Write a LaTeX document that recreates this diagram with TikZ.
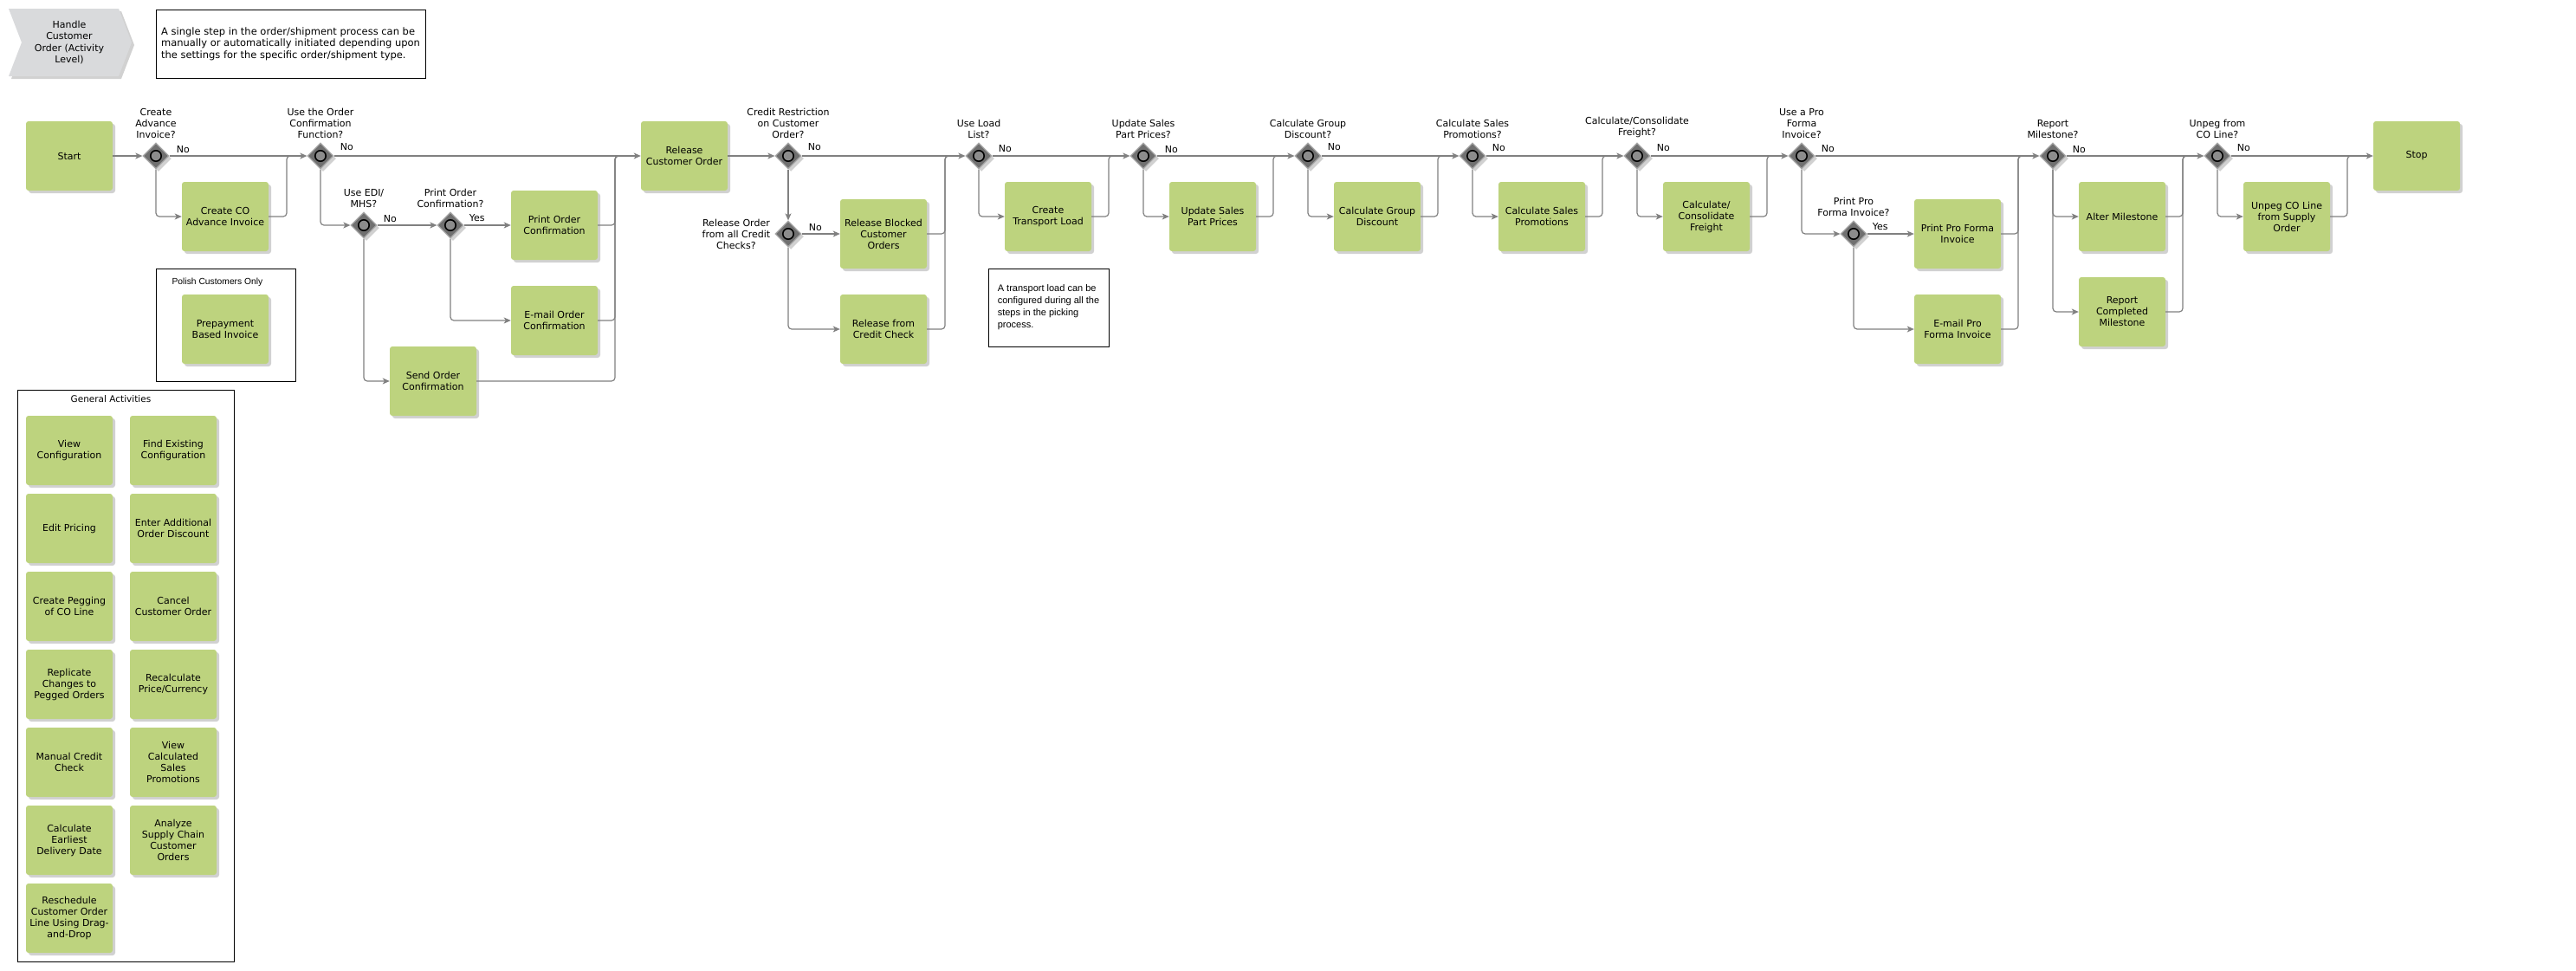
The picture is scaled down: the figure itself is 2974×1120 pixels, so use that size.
\documentclass[tikz,border=0pt]{standalone}
\usepackage{fontspec}
\setmainfont{DejaVu Sans}
\newfontfamily\notefont{Liberation Sans}
\usetikzlibrary{positioning,shapes.geometric,arrows.meta,shadows}

\definecolor{funcgreen}{RGB}{189,211,126}
\definecolor{gatefill}{RGB}{112,112,112}
\definecolor{gateedge}{RGB}{168,168,168}
\definecolor{gatedot}{RGB}{140,140,140}
\definecolor{linkgray}{RGB}{128,128,128}
\definecolor{chevgray}{RGB}{217,218,220}

\tikzset{
  softshadow/.style={drop shadow={shadow xshift=3pt, shadow yshift=-3pt, fill=black!45, opacity=.4}},
  func/.style={rectangle, rounded corners=3pt, fill=funcgreen, minimum width=100pt, minimum height=80pt,
    inner sep=1pt, align=center, font=\fontsize{11}{13}\selectfont, softshadow},
  gate/.style={diamond, minimum width=30pt, minimum height=30pt, inner sep=0pt, fill=gatefill,
    draw=gateedge, line width=1.2pt, softshadow,
    path picture={\draw[black, line width=1.6pt, fill=gatedot] (path picture bounding box.center) circle (6.2pt);}},
  question/.style={align=center, font=\fontsize{11}{13}\selectfont, inner sep=1pt},
  answer/.style={font=\fontsize{11}{13}\selectfont, inner sep=1pt, anchor=south west},
  notebox/.style={draw, line width=1pt, rectangle, inner sep=0pt},
  link/.style={draw=linkgray, line width=1.2pt, rounded corners=4pt},
  flow/.style={link, -{Stealth[length=8pt, width=7pt, inset=2pt]}},
}

\begin{document}
\begin{tikzpicture}[x=1pt, y=-1pt]
\useasboundingbox (0,0) rectangle (2974,1120);

% header
\fill[chevgray, softshadow] (10,10) -- (137,10) -- (152,49) -- (137,88) -- (10,88) -- (25,49) -- cycle;
\node[question, font=\fontsize{11}{13.5}\selectfont] (title) at (80,49) {Handle\\Customer\\Order (Activity\\Level)};
\node[notebox, minimum width=311pt, minimum height=79pt, align=left, font=\fontsize{11.5}{13.5}\selectfont] (scopenote) at (335.5,50.5)
  {A single step in the order/shipment process can be\\manually or automatically initiated depending upon\\the settings for the specific order/shipment type.};

% functions
\node[func] (start) at (80,180) {Start};
\node[func] (coadv) at (260,250) {Create CO\\Advance Invoice};
\node[func] (printconf) at (640,260) {Print Order\\Confirmation};
\node[func] (mailconf) at (640,370) {E-mail Order\\Confirmation};
\node[func] (sendconf) at (500,440) {Send Order\\Confirmation};
\node[func] (release) at (790,180) {Release\\Customer Order};
\node[func] (relblock) at (1020,270) {Release Blocked\\Customer\\Orders};
\node[func] (relcredit) at (1020,380) {Release from\\Credit Check};
\node[func] (transport) at (1210,250) {Create\\Transport Load};
\node[func] (updprice) at (1400,250) {Update Sales\\Part Prices};
\node[func] (groupdisc) at (1590,250) {Calculate Group\\Discount};
\node[func] (salesprom) at (1780,250) {Calculate Sales\\Promotions};
\node[func] (freight) at (1970,250) {Calculate/\\Consolidate\\Freight};
\node[func] (printpf) at (2260,270) {Print Pro Forma\\Invoice};
\node[func] (mailpf) at (2260,380) {E-mail Pro\\Forma Invoice};
\node[func] (altermile) at (2450,250) {Alter Milestone};
\node[func] (repmile) at (2450,360) {Report\\Completed\\Milestone};
\node[func] (unpeg) at (2640,250) {Unpeg CO Line\\from Supply\\Order};
\node[func] (stop) at (2790,180) {Stop};

% decisions
\node[gate] (g1) at (180,180) {};
\node[question, above=4pt of g1] (q1) {Create\\Advance\\Invoice?};
\node[answer] (a1) at ([xshift=7pt,yshift=2pt]g1.east) {No};
\node[gate] (g2) at (370,180) {};
\node[question, above=4pt of g2] (q2) {Use the Order\\Confirmation\\Function?};
\node[answer] (a2) at ([xshift=6pt,yshift=5pt]g2.east) {No};
\node[gate] (g3) at (420,260) {};
\node[question, above=4pt of g3] (q3) {Use EDI/\\MHS?};
\node[answer] (a3) at ([xshift=6pt,yshift=2pt]g3.east) {No};
\node[gate] (g4) at (520,260) {};
\node[question, above=4pt of g4] (q4) {Print Order\\Confirmation?};
\node[answer] (a4) at ([xshift=5pt,yshift=3pt]g4.east) {Yes};
\node[gate] (g5) at (910,180) {};
\node[question, above=4pt of g5] (q5) {Credit Restriction\\on Customer\\Order?};
\node[answer] (a5) at ([xshift=6pt,yshift=5pt]g5.east) {No};
\node[gate] (g6) at (910,270) {};
\node[question, left=4pt of g6] (q6) {Release Order\\from all Credit\\Checks?};
\node[answer] (a6) at ([xshift=7pt,yshift=2pt]g6.east) {No};
\node[gate] (g7) at (1130,180) {};
\node[question, above=4pt of g7] (q7) {Use Load\\List?};
\node[answer] (a7) at ([xshift=6pt,yshift=3pt]g7.east) {No};
\node[gate] (g8) at (1320,180) {};
\node[question, above=4pt of g8] (q8) {Update Sales\\Part Prices?};
\node[answer] (a8) at ([xshift=8pt,yshift=2pt]g8.east) {No};
\node[gate] (g9) at (1510,180) {};
\node[question, above=4pt of g9] (q9) {Calculate Group\\Discount?};
\node[answer] (a9) at ([xshift=6pt,yshift=5pt]g9.east) {No};
\node[gate] (g10) at (1700,180) {};
\node[question, above=4pt of g10] (q10) {Calculate Sales\\Promotions?};
\node[answer] (a10) at ([xshift=6pt,yshift=4pt]g10.east) {No};
\node[gate] (g11) at (1890,180) {};
\node[question, above=4pt of g11] (q11) {Calculate/Consolidate\\Freight?};
\node[answer] (a11) at ([xshift=6pt,yshift=4pt]g11.east) {No};
\node[gate] (g12) at (2080,180) {};
\node[question, above=4pt of g12] (q12) {Use a Pro\\Forma\\Invoice?};
\node[answer] (a12) at ([xshift=6pt,yshift=3pt]g12.east) {No};
\node[gate] (g13) at (2140,270) {};
\node[question, above=4pt of g13] (q13) {Print Pro\\Forma Invoice?};
\node[answer] (a13) at ([xshift=5pt,yshift=3pt]g13.east) {Yes};
\node[gate] (g14) at (2370,180) {};
\node[question, above=4pt of g14] (q14) {Report\\Milestone?};
\node[answer] (a14) at ([xshift=6pt,yshift=2pt]g14.east) {No};
\node[gate] (g15) at (2560,180) {};
\node[question, above=4pt of g15] (q15) {Unpeg from\\CO Line?};
\node[answer] (a15) at ([xshift=6pt,yshift=4pt]g15.east) {No};

% merge points on the main line
\coordinate (m1) at (331,180);
\coordinate (m2) at (710,180);
\coordinate (m3) at (1091,180);
\coordinate (m4) at (1280,180);
\coordinate (m5) at (1470,180);
\coordinate (m6) at (1660,180);
\coordinate (m7) at (1850,180);
\coordinate (m8) at (2040,180);
\coordinate (m9) at (2330,180);
\coordinate (m10) at (2520,180);
\coordinate (m11) at (2710,180);

% main line
\draw[flow] (start) -- (g1);
\draw[flow] (g1) -- (g2);
\draw[flow] (g2) -- (release);
\draw[flow] (release) -- (g5);
\draw[flow] (g5) -- (g7);
\draw[flow] (g7) -- (g8);
\draw[flow] (g8) -- (g9);
\draw[flow] (g9) -- (g10);
\draw[flow] (g10) -- (g11);
\draw[flow] (g11) -- (g12);
\draw[flow] (g12) -- (g14);
\draw[flow] (g14) -- (g15);
\draw[flow] (g15) -- (stop);

% branches
\draw[flow] (g1.south) |- (coadv.west);
\draw[link] (coadv.east) -| (m1) -- ++(6,0);
\draw[flow] (g2.south) |- (g3.west);
\draw[flow] (g3) -- (g4);
\draw[flow] (g4) -- (printconf);
\draw[flow] (g4.south) |- (mailconf.west);
\draw[flow] (g3.south) |- (sendconf.west);
\draw[link] (printconf.east) -| (m2) -- ++(6,0);
\draw[link] (mailconf.east) -| (m2) -- ++(6,0);
\draw[link] (sendconf.east) -| (m2) -- ++(6,0);
\draw[flow] (g5) -- (g6);
\draw[flow] (g6) -- (relblock);
\draw[flow] (g6.south) |- (relcredit.west);
\draw[link] (relblock.east) -| (m3) -- ++(6,0);
\draw[link] (relcredit.east) -| (m3) -- ++(6,0);
\draw[flow] (g7.south) |- (transport.west);
\draw[link] (transport.east) -| (m4) -- ++(6,0);
\draw[flow] (g8.south) |- (updprice.west);
\draw[link] (updprice.east) -| (m5) -- ++(6,0);
\draw[flow] (g9.south) |- (groupdisc.west);
\draw[link] (groupdisc.east) -| (m6) -- ++(6,0);
\draw[flow] (g10.south) |- (salesprom.west);
\draw[link] (salesprom.east) -| (m7) -- ++(6,0);
\draw[flow] (g11.south) |- (freight.west);
\draw[link] (freight.east) -| (m8) -- ++(6,0);
\draw[flow] (g12.south) |- (g13.west);
\draw[flow] (g13) -- (printpf);
\draw[flow] (g13.south) |- (mailpf.west);
\draw[link] (printpf.east) -| (m9) -- ++(6,0);
\draw[link] (mailpf.east) -| (m9) -- ++(6,0);
\draw[flow] (g14.south) |- (altermile.west);
\draw[flow] (g14.south) |- (repmile.west);
\draw[link] (altermile.east) -| (m10) -- ++(6,0);
\draw[link] (repmile.east) -| (m10) -- ++(6,0);
\draw[flow] (g15.south) |- (unpeg.west);
\draw[link] (unpeg.east) -| (m11) -- ++(6,0);

% notes and groups
\node[notebox, minimum width=139pt, minimum height=90pt, align=left, font=\notefont\fontsize{11}{14}\selectfont] (loadnote) at (1210.5,355)
  {A transport load can be\\configured during all the\\steps in the picking\\process.};
\node[notebox, minimum width=161pt, minimum height=130pt] (polish) at (260.5,375) {};
\node[font=\notefont\fontsize{10.3}{12}\selectfont, inner sep=1pt] (polishlbl) at (251,326) {Polish Customers Only};
\node[func] (prepay) at (260,380) {Prepayment\\Based Invoice};

\node[notebox, minimum width=250pt, minimum height=660pt] (general) at (145,780) {};
\node[font=\fontsize{10.5}{12}\selectfont, inner sep=1pt] (generallbl) at (128,461) {General Activities};
\node[func] (viewconf) at (80,520) {View\\Configuration};
\node[func] (findconf) at (200,520) {Find Existing\\Configuration};
\node[func] (editprice) at (80,610) {Edit Pricing};
\node[func] (adddisc) at (200,610) {Enter Additional\\Order Discount};
\node[func] (pegging) at (80,700) {Create Pegging\\of CO Line};
\node[func] (cancel) at (200,700) {Cancel\\Customer Order};
\node[func] (replicate) at (80,790) {Replicate\\Changes to\\Pegged Orders};
\node[func] (recalc) at (200,790) {Recalculate\\Price/Currency};
\node[func] (mancredit) at (80,880) {Manual Credit\\Check};
\node[func] (viewprom) at (200,880) {View\\Calculated\\Sales\\Promotions};
\node[func] (earliest) at (80,970) {Calculate\\Earliest\\Delivery Date};
\node[func] (analyze) at (200,970) {Analyze\\Supply Chain\\Customer\\Orders};
\node[func] (resched) at (80,1060) {Reschedule\\Customer Order\\Line Using Drag-\\and-Drop};
\end{tikzpicture}
\end{document}
